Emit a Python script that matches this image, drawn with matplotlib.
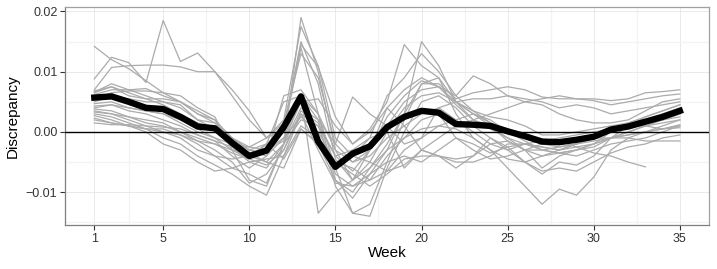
import numpy as np
from matplotlib import pyplot as plt

# semaines 1..35, valeurs en 1e-3
weeks = list(range(1, 36))
nan = float('nan')

s01 = [8.8,12.4,11.5,8.2,18.5,11.7,13.1,10.0,7.0,3.5,-1.0,0.5,14.5,10.8,2.5,-2.0,0.5,5.0,14.5,11.0,9.0,5.0,3.0,2.0,0.0,-1.5,-3.0,-2.5,-2.0,-1.0,0.0,1.0,2.5,3.5,4.5]
s02 = [14.2,12.0,10.5,8.5,6.5,5.0,3.0,1.5,-1.5,-3.0,-2.0,0.5,15.0,8.0,-4.5,-8.0,-3.0,2.5,6.0,8.5,7.5,4.5,2.0,0.5,-1.0,-2.0,-3.0,-3.5,-3.0,-2.5,-1.0,0.0,1.0,2.0,3.0]
s03 = [7.0,10.7,11.0,11.1,11.1,10.8,10.0,10.0,6.0,2.0,-1.0,2.0,17.5,11.0,-1.0,-4.0,-1.0,6.0,9.0,13.0,10.0,6.0,9.3,8.0,6.0,5.0,5.5,6.0,5.5,5.5,5.2,5.5,6.5,6.7,7.0]
s04 = [6.6,8.0,7.0,7.2,6.0,5.0,3.0,2.0,-2.0,-4.0,-5.0,-2.0,19.0,10.0,-3.0,-8.0,-6.0,-2.0,3.0,15.0,11.0,5.0,2.0,1.0,-1.0,-3.0,-6.0,-4.0,-3.0,-2.0,0.0,1.0,2.0,3.0,4.0]
s05 = [6.5,7.5,6.5,5.5,5.5,5.0,3.5,2.0,-1.0,-3.0,-3.5,0.0,14.0,3.0,-6.0,-13.5,-12.0,-5.0,2.0,8.0,8.0,5.5,6.5,7.0,7.5,7.0,5.8,5.5,5.5,5.2,4.5,5.0,5.5,6.0,6.3]
s06 = [6.2,7.0,7.0,6.0,5.0,4.0,2.0,0.5,-2.5,-5.0,-6.0,-2.0,6.0,-13.5,-10.0,-8.0,-5.0,0.0,4.0,6.0,6.5,5.0,3.0,1.5,0.5,-1.0,-2.0,-2.5,-2.0,-1.5,-1.0,0.0,1.0,1.5,2.0]
s07 = [5.5,6.5,6.8,6.8,6.5,6.0,4.0,2.5,-3.0,-8.0,-9.0,-2.0,4.0,2.0,-9.0,-13.5,-14.0,-6.0,0.0,5.0,6.0,4.0,1.0,-1.0,-3.0,-5.0,-7.0,-5.0,-5.5,-4.0,-1.0,1.0,1.5,2.0,3.0]
s08 = [5.0,6.0,5.5,5.0,5.0,4.5,2.0,1.5,-1.0,-3.0,-4.0,-1.0,6.0,3.0,-8.0,-11.0,-7.0,-3.0,3.0,8.0,9.0,3.0,-1.0,-3.0,-6.0,-9.0,-12.0,-9.5,-10.5,-7.5,-3.0,-1.0,0.0,1.0,2.0]
s09 = [4.7,5.0,4.0,3.5,3.0,2.0,0.5,-1.0,-3.0,-4.5,-2.0,5.0,6.0,2.0,-2.0,5.8,3.0,1.0,-2.0,-1.0,4.0,5.0,5.5,5.5,6.0,5.5,5.0,4.0,4.5,4.0,3.0,3.5,4.0,4.5,5.0]
s10 = [4.3,4.5,3.5,3.0,2.0,1.0,-0.5,-1.5,-4.0,-6.0,-4.0,6.0,7.0,3.0,-3.0,-5.0,-4.0,-1.0,1.0,3.0,4.0,2.0,0.0,-2.0,-3.0,-2.0,-2.5,-3.0,-2.0,-1.0,0.0,1.0,1.5,2.0,2.5]
s11 = [3.8,3.5,2.5,2.0,1.5,0.0,-1.5,-3.0,-5.0,-8.5,-7.0,-3.0,3.0,-3.0,-8.5,-9.0,-8.0,-6.5,-3.0,-1.0,1.0,0.5,-1.0,-3.0,-4.5,-5.0,-4.0,-3.5,-3.0,-2.0,-1.0,-0.5,0.0,0.5,1.0]
s12 = [3.3,3.0,2.0,1.0,0.0,-0.5,-2.0,-4.0,-6.0,-7.0,-8.5,-2.0,2.0,1.0,-7.0,-9.0,-7.0,-5.0,-4.0,-5.0,-3.0,-1.0,-2.0,-3.5,-2.5,-2.0,-1.5,-1.0,-0.5,0.0,0.5,1.0,1.0,0.5,0.7]
s13 = [3.0,2.5,1.5,0.5,-1.0,-2.0,-4.0,-5.5,-7.0,-9.0,-10.5,-4.0,1.0,-1.0,-5.0,-6.0,-8.0,-4.0,-1.0,2.0,3.0,-1.0,-3.0,-4.5,-4.0,-3.0,-3.0,-3.5,-4.0,-3.0,-2.0,-1.5,-1.0,0.0,1.0]
s14 = [2.7,2.0,1.0,0.0,-2.0,-3.0,-5.0,-6.5,-6.0,-5.0,-4.5,-4.0,3.0,1.0,-4.0,-3.0,-1.0,0.0,-6.0,-3.0,-4.0,-6.0,-4.0,-2.0,-1.5,-3.0,-4.0,-3.0,-2.5,-2.0,-1.0,-0.5,0.0,0.5,1.2]
s15 = [2.3,1.5,1.0,0.5,0.5,-0.5,-1.5,-2.0,-3.0,-3.5,-3.0,-1.0,2.5,0.0,-5.0,-7.0,-9.0,-7.0,-4.5,-4.0,-4.0,-4.5,-4.0,-1.0,-2.5,-5.0,-6.5,-6.0,-6.5,-5.0,-3.5,-2.5,-2.0,-1.0,-0.5]
s16 = [2.0,1.5,1.0,0.5,0.0,-1.0,-3.0,-4.0,-4.5,-4.0,-2.0,-4.5,0.5,-2.0,-6.0,-4.0,-5.0,-6.5,-5.5,-3.0,-4.0,-5.0,-5.0,-4.0,-2.0,-2.0,-2.5,-3.0,-2.0,-1.0,-1.0,-1.0,-1.5,-1.5,-1.5]
s17 = [1.5,1.2,1.2,1.0,0.8,0.5,-0.5,-1.5,-2.5,-3.5,-5.0,-6.0,0.5,-2.0,-8.0,-10.0,-6.0,-3.0,-1.0,0.5,1.0,2.0,3.0,1.0,-1.5,-3.0,-2.0,-1.5,-2.5,-3.5,-4.0,-5.0,-5.8,nan,nan]
s18 = [6.8,7.5,6.0,5.5,4.5,3.0,1.5,0.5,-1.0,-2.5,-3.0,-1.5,5.0,5.5,1.0,-2.0,0.0,4.0,7.0,9.0,7.5,5.0,3.5,2.5,2.0,1.0,-0.5,-0.5,0.0,0.5,1.0,1.5,2.0,2.5,3.0]
s19 = [4.0,4.5,4.0,3.5,3.0,1.5,0.0,-1.0,-2.0,-2.5,-1.0,1.5,13.0,9.0,-2.0,-5.0,-3.0,1.0,5.0,7.0,7.5,6.0,3.5,1.5,0.0,-1.0,-1.5,-2.0,-1.5,-0.5,0.5,1.5,2.5,3.5,4.5]
s20 = [3.5,3.0,2.5,1.5,1.0,0.0,-1.0,-2.0,-3.5,-4.5,-5.5,-3.0,3.5,1.5,-4.0,-6.5,-3.0,4.0,1.0,-3.0,-1.0,1.0,2.0,3.0,4.0,5.0,4.5,3.0,2.0,1.5,1.5,2.0,3.5,5.0,5.5]

moyenne = [5.7,5.9,5.0,4.0,3.8,2.5,0.9,0.6,-1.8,-4.0,-3.1,0.8,5.9,-1.6,-5.8,-3.6,-2.4,0.8,2.5,3.5,3.2,1.3,1.2,1.0,0.1,-0.7,-1.6,-1.7,-1.3,-0.8,0.4,0.9,1.7,2.5,3.5]

series = [s01,s02,s03,s04,s05,s06,s07,s08,s09,s10,s11,s12,s13,s14,s15,s16,s17,s18,s19,s20]
xticks = [1, 5, 10, 15, 20, 25, 30, 35]
yticks = [-0.01, 0.00, 0.01, 0.02]

plt.rcParams['font.family'] = ['Liberation Sans', 'DejaVu Sans']

fig = plt.figure(figsize=(7.17, 2.69), dpi=100)
ax = fig.add_axes([0.0907, 0.1625, 0.8983, 0.8105])

for s in series:
    ax.plot(weeks, np.array(s) / 1000, color='#ababab', lw=0.9, zorder=2)
ax.axhline(0, color='black', lw=1.0, zorder=3)
ax.plot(weeks, np.array(moyenne) / 1000, color='black', lw=4.6, zorder=4)

ax.set_xlim(-0.7, 36.7)
ax.set_ylim(-0.0155, 0.0207)
ax.set_xticks(xticks)
ax.set_yticks(yticks)
ax.set_yticklabels(['−0.01', '0.00', '0.01', '0.02'])
ax.set_xticks([3, 7.5, 12.5, 17.5, 22.5, 27.5, 32.5], minor=True)
ax.set_yticks([-0.015, -0.005, 0.005, 0.015], minor=True)
ax.grid(which='major', color='#e6e6e6', lw=0.6, zorder=0)
ax.grid(which='minor', color='#f3f3f3', lw=0.9, zorder=0)
ax.set_axisbelow(True)
ax.tick_params(which='minor', length=0)
ax.tick_params(which='major', length=3.5, width=0.8, color='#333333',
               labelsize=9, labelcolor='#333333', pad=2)
for sp in ax.spines.values():
    sp.set_color('#a0a0a0')
    sp.set_linewidth(0.9)
ax.spines['left'].set_color('#7f7f7f')
ax.spines['bottom'].set_color('#7f7f7f')

ax.set_xlabel('Week', fontsize=11, labelpad=1)
ax.set_ylabel('Discrepancy', fontsize=11, labelpad=4)

plt.savefig('out.png', dpi=100)
